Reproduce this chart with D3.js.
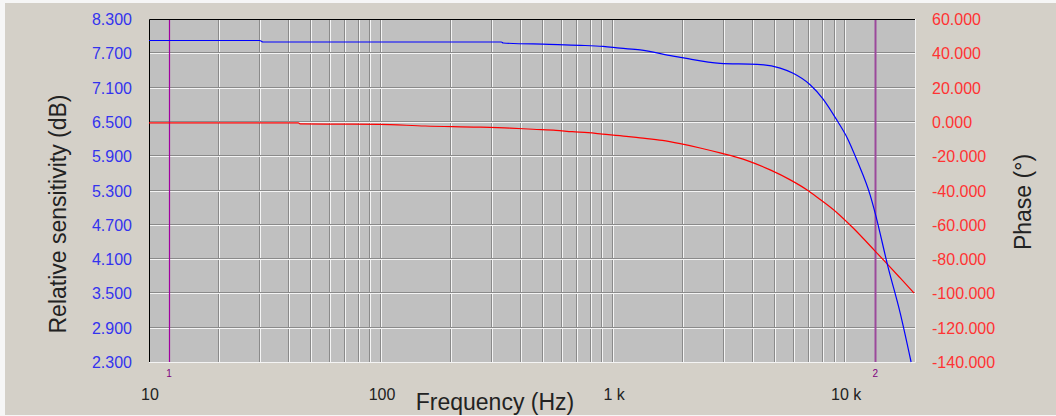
<!DOCTYPE html>
<html>
<head>
<meta charset="utf-8">
<script src="https://cdn.jsdelivr.net/npm/d3@7"></script>
<style>
  body { margin: 0; background: #f6f6f6; }
  svg { display: block; }
</style>
</head>
<body>
<div id="chart"></div>
<script>
// frequency response data
const sensFreq = [10, 30, 31, 330, 336, 530, 720, 906, 1072, 1307, 1815, 1945, 2892, 4180, 5248, 5970, 7063, 8036, 9247, 10210, 11270, 12820, 13460, 15310, 17260, 19240];
const sensDb   = [7.924, 7.924, 7.898, 7.898, 7.88, 7.857, 7.84, 7.82, 7.79, 7.76, 7.65, 7.63, 7.525, 7.508, 7.44, 7.35, 7.15, 6.90, 6.52, 6.22, 5.82, 5.22, 4.91, 3.96, 3.16, 2.30];

const phaseFreq = [10, 44, 45, 98, 155, 264, 360, 452, 567, 666, 780, 900, 1140, 1307, 1630, 1945, 2371, 2892, 3786, 4753, 5800, 6858, 7650, 9247, 10720, 13460, 15310, 17260, 19820];
const phaseDeg  = [-0.6, -0.6, -1.2, -1.4, -2.4, -3.0, -3.6, -4.3, -4.9, -5.7, -6.3, -7.1, -8.4, -9.3, -10.8, -12.7, -15.2, -18.1, -22.6, -28.0, -33.8, -39.7, -44.4, -53.1, -61.3, -75.3, -83.4, -91.0, -99.8];

const leftTicks  = [8.3, 7.7, 7.1, 6.5, 5.9, 5.3, 4.7, 4.1, 3.5, 2.9, 2.3];
const rightTicks = [60, 40, 20, 0, -20, -40, -60, -80, -100, -120, -140];
const freqTicks  = [10, 100, 1000, 10000];
const freqTickLabels = ["10", "100", "1 k", "10 k"];
const cursorFreq = [12.2, 13500];
const cursorLabels = ["1", "2"];

const W = 1056, H = 416;
const margin = {top: 19, right: 141, bottom: 54, left: 149};
const width = W - margin.left - margin.right;
const height = H - margin.top - margin.bottom;

const svg = d3.select("#chart").append("svg")
  .attr("width", W)
  .attr("height", H);

// window background
svg.append("rect")
  .attr("x", 5).attr("y", 3)
  .attr("width", W - 5).attr("height", H - 4)
  .attr("fill", "#d4d0c8");

const g = svg.append("g")
  .attr("transform", `translate(${margin.left}, ${margin.top})`);

const xScale = d3.scaleLog().domain([10, 20000]).range([0, width]);
const yLeft  = d3.scaleLinear().domain([2.3, 8.3]).range([height, 0]);
const yRight = d3.scaleLinear().domain([-140, 60]).range([height, 0]);

g.append("rect")
  .attr("width", width).attr("height", height)
  .attr("fill", "#c0c0c0");

// grid lines: every 1..9 of each decade
const minor = [];
for (let dec = 10; dec <= 10000; dec *= 10) {
  for (let k = 1; k <= 9; k++) {
    const f = dec * k;
    if (f > 10 && f < 20000) minor.push(f);
  }
}
const vx = d => Math.round(xScale(d));
g.selectAll(".vgrid-d").data(minor).enter().append("line")
  .attr("x1", d => vx(d) - 0.5).attr("x2", d => vx(d) - 0.5)
  .attr("y1", 0).attr("y2", height)
  .attr("stroke", "#8a8a8a");
g.selectAll(".vgrid-l").data(minor).enter().append("line")
  .attr("x1", d => vx(d) + 0.5).attr("x2", d => vx(d) + 0.5)
  .attr("y1", 0).attr("y2", height)
  .attr("stroke", "#f4f4f4");

const hTicks = leftTicks.slice(1, -1);
const hy = d => Math.round(yLeft(d));
g.selectAll(".hgrid-d").data(hTicks).enter().append("line")
  .attr("x1", 0).attr("x2", width)
  .attr("y1", d => hy(d) - 0.5).attr("y2", d => hy(d) - 0.5)
  .attr("stroke", "#8a8a8a");
g.selectAll(".hgrid-l").data(hTicks).enter().append("line")
  .attr("x1", 0).attr("x2", width)
  .attr("y1", d => hy(d) + 0.5).attr("y2", d => hy(d) + 0.5)
  .attr("stroke", "#f4f4f4");

// sunken frame
g.append("path")
  .attr("d", `M0.5,${height} V0.5 H${width}`)
  .attr("fill", "none").attr("stroke", "#000");
g.append("path")
  .attr("d", `M${width + 0.5},0 V${height + 0.5} H0`)
  .attr("fill", "none").attr("stroke", "#f4f4f4");

// cursors
g.selectAll(".cursor").data(cursorFreq).enter().append("line")
  .attr("x1", d => vx(d) + 0.5).attr("x2", d => vx(d) + 0.5)
  .attr("y1", 1).attr("y2", height)
  .attr("stroke", (d, i) => i === 0 ? "#a000a0" : "#9b4a9b")
  .attr("stroke-width", (d, i) => i === 0 ? 1.2 : 2);

g.selectAll(".cursor-label").data(cursorFreq).enter().append("text")
  .attr("x", d => xScale(d))
  .attr("y", height + 15)
  .attr("text-anchor", "middle")
  .style("font-family", "Liberation Sans, Arial, sans-serif")
  .style("font-size", "10px")
  .style("fill", "#800080")
  .text((d, i) => cursorLabels[i]);

// curves
const sensData = sensFreq.map((f, i) => ({f: f, v: sensDb[i]}));
const phaseData = phaseFreq.map((f, i) => ({f: f, v: phaseDeg[i]}));

g.append("path")
  .datum(phaseData)
  .attr("fill", "none").attr("stroke", "#ff0000").attr("stroke-width", 1.2)
  .attr("d", d3.line().curve(d3.curveMonotoneX).x(d => xScale(d.f)).y(d => yRight(d.v)));

g.append("path")
  .datum(sensData)
  .attr("fill", "none").attr("stroke", "#0000ff").attr("stroke-width", 1.2)
  .attr("d", d3.line().curve(d3.curveMonotoneX).x(d => xScale(d.f)).y(d => yLeft(d.v)));

// tick labels
const tickFont = "Liberation Sans, Arial, sans-serif";
g.selectAll(".lt").data(leftTicks).enter().append("text")
  .attr("x", -17)
  .attr("y", d => yLeft(d) + 6)
  .attr("text-anchor", "end")
  .style("font-family", tickFont).style("font-size", "16px")
  .style("fill", "#3333ee")
  .text(d => d.toFixed(3));

g.selectAll(".rt").data(rightTicks).enter().append("text")
  .attr("x", width + 17)
  .attr("y", d => yRight(d) + 6)
  .attr("text-anchor", "start")
  .style("font-family", tickFont).style("font-size", "16px")
  .style("fill", "#ff3333")
  .text(d => d.toFixed(3));

g.selectAll(".xt").data(freqTicks).enter().append("text")
  .attr("x", d => xScale(d) + 1)
  .attr("y", height + 38)
  .attr("text-anchor", "middle")
  .style("font-family", tickFont).style("font-size", "16px")
  .style("fill", "#222")
  .text((d, i) => freqTickLabels[i]);

// axis titles
const titleFont = "Liberation Sans, Arial, sans-serif";
svg.append("text")
  .attr("transform", "translate(66, 214) rotate(-90)")
  .attr("text-anchor", "middle")
  .style("font-family", titleFont).style("font-size", "23px")
  .style("fill", "#222")
  .text("Relative sensitivity (dB)");

svg.append("text")
  .attr("transform", "translate(1031, 202) rotate(-90)")
  .attr("text-anchor", "middle")
  .style("font-family", titleFont).style("font-size", "23px")
  .style("fill", "#222")
  .text("Phase (°)");

svg.append("text")
  .attr("x", 495)
  .attr("y", 410)
  .attr("text-anchor", "middle")
  .style("font-family", titleFont).style("font-size", "23px")
  .style("fill", "#222")
  .text("Frequency (Hz)");
</script>
</body>
</html>
